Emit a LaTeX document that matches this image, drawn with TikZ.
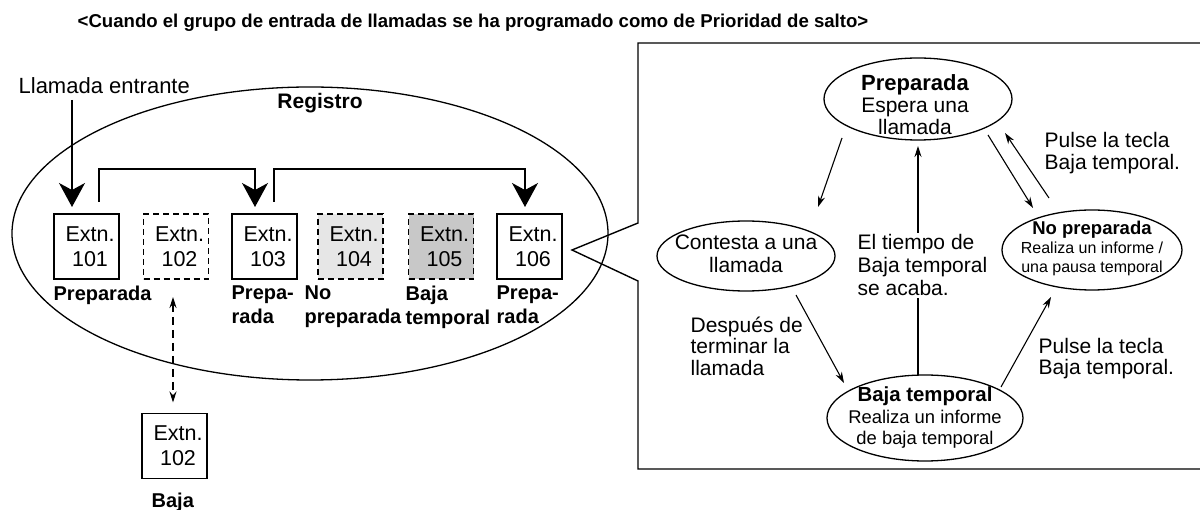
\documentclass[tikz,border=0pt]{standalone}
\usepackage{fontspec}
\setmainfont{Liberation Sans}
\usetikzlibrary{arrows.meta,shapes.geometric}
\definecolor{lightfill}{RGB}{230,230,230}
\definecolor{midfill}{RGB}{200,200,200}
\newcommand\fsz[2]{\fontsize{#1}{#2}\selectfont}
\newcommand\extlabel[1]{\hspace*{7pt}Extn.\\\hspace*{7pt}#1}
\begin{document}
\begin{tikzpicture}[x=1pt,y=-1pt,line width=1.3pt,
 extbox/.style={draw,minimum width=65pt,minimum height=65pt,inner sep=0pt,outer sep=0pt,align=center,font=\fsz{21.5}{25}},
 dextbox/.style={extbox,dash pattern=on 6pt off 4pt},
 lbl/.style={anchor=north west,align=left,inner sep=0pt,font=\bfseries\fsz{20}{24}},
 stell/.style={draw,ellipse,inner sep=0pt,outer sep=0pt},
 txt/.style={anchor=north west,align=left,inner sep=0pt,font=\fsz{21}{22}},
 bigarrow/.style={-{Stealth[length=24pt,width=26pt,inset=7pt]}},
 smallarrow/.style={line width=1.1pt,-{Stealth[length=11pt,width=7pt]}},
]
\useasboundingbox (0,0) rectangle (1200,510);

% title
\node[anchor=west,inner sep=0pt,font=\bfseries\fsz{18.6}{22}] (title) at (77,23) {<Cuando el grupo de entrada de llamadas se ha programado como de Prioridad de salto>};

% left part
\node[stell,minimum width=596pt,minimum height=293pt] (registro) at (310,233.5) {};
\node[inner sep=0pt,font=\bfseries\fsz{21}{24}] (registroT) at (320,103) {Registro};
\node[anchor=west,inner sep=0pt,font=\fsz{22}{24}] (incoming) at (18,86) {Llamada entrante};

\node[extbox] (b101) at (86.5,246.5) {\extlabel{101}};
\node[dextbox] (b102) at (176,246.5) {\extlabel{102}};
\node[extbox] (b103) at (264.5,246.5) {\extlabel{103}};
\node[dextbox,fill=lightfill] (b104) at (350.5,246.5) {\extlabel{104}};
\node[dextbox,fill=midfill] (b105) at (441,246.5) {\extlabel{105}};
\node[extbox] (b106) at (529.5,246.5) {\extlabel{106}};
\node[extbox] (b102low) at (174.5,446) {\extlabel{102}};

\node[lbl] (l101) at (53,285) {Preparada};
\node[lbl] (l103) at (231,285) {Prepa-\\rada};
\node[lbl] (l104) at (304,285) {No\\preparada};
\node[lbl] (l105) at (405,285) {Baja\\temporal};
\node[lbl] (l106) at (496,285) {Prepa-\\rada};
\node[lbl] (l102low) at (151,492) {Baja};

\coordinate (incomingEnd) at (72,100);
\draw[bigarrow,shorten >=7pt] (incomingEnd) -- (incomingEnd |- b101.north);
\draw[bigarrow,shorten >=7pt] ([shift={(12.5,-12)}]b101.north) |- ([shift={(-9.5,-45)}]b103.north) -- ([shift={(-9.5,0)}]b103.north);
\draw[bigarrow,shorten >=7pt] ([shift={(9.5,-12)}]b103.north) |- ([shift={(-4.5,-45)}]b106.north) -- ([shift={(-4.5,0)}]b106.north);
\draw[line width=1.1pt,dash pattern=on 8pt off 5pt,{Stealth[length=11pt,width=7pt]}-{Stealth[length=11pt,width=7pt]},shorten <=18pt,shorten >=11pt] ([shift={(-3,0)}]b102.south) -- ([shift={(-3,0)}]b102.south |- b102low.north);

% right panel
\draw[line width=1.4pt] (1206,43) -- (638,43) -- (638,223) -- (572,250) -- (638,281) -- (638,469) -- (1206,469);

\node[stell,minimum width=188pt,minimum height=82pt] (prepE) at (918,99) {};
\node[stell,minimum width=178pt,minimum height=70pt] (contE) at (746,256) {};
\node[stell,minimum width=180pt,minimum height=80pt] (noprepE) at (1092,250) {};
\node[stell,minimum width=196pt,minimum height=86pt] (bajaE) at (925,418) {};

\node[align=center,inner sep=0pt,font=\fsz{21}{22}] (prepT) at (915,105) {{\bfseries\fsz{22}{22}Preparada}\\Espera una\\llamada};
\node[align=center,inner sep=0pt,font=\fsz{21}{23}] (contT) at (746,254) {Contesta a una\\llamada};
\node[align=center,inner sep=0pt,font=\fsz{16}{19}] (noprepT) at (1092,248) {{\bfseries\fsz{18.5}{19}No preparada}\\Realiza un informe /\\una pausa temporal};
\node[align=center,inner sep=0pt,font=\fsz{18.4}{21.5}] (bajaT) at (925,418) {{\bfseries\fsz{20.4}{21.5}Baja temporal}\\Realiza un informe\\de baja temporal};

\draw[smallarrow,shorten >=6pt] (prepE.south |- bajaE.north) -- (prepE.south);
\node[txt,fill=white,inner sep=2pt,font=\fsz{21}{23}] (timeout) at (855,232) {El tiempo de\\Baja temporal\\se acaba.};
\node[txt] (pulse1) at (1044,132) {Pulse la tecla\\Baja temporal.};
\node[txt,font=\fsz{21}{21.5}] (despues) at (690,316) {Después de\\terminar la\\llamada};
\node[txt,font=\fsz{21}{21}] (pulse2) at (1038,338) {Pulse la tecla\\Baja temporal.};

\draw[smallarrow] ([shift={(-76,39)}]prepE.center) -- ([shift={(72,-49)}]contE.center);
\draw[smallarrow] ([shift={(70,36)}]prepE.center) -- ([shift={(-59,-42)}]noprepE.center);
\draw[smallarrow] ([shift={(-43,-52)}]noprepE.center) -- ([shift={(87,34)}]prepE.center);
\draw[smallarrow] ([shift={(50,39)}]contE.center) -- ([shift={(-81,-35)}]bajaE.center);
\draw[smallarrow] ([shift={(76,-31)}]bajaE.center) -- ([shift={(-41,47)}]noprepE.center);
\end{tikzpicture}
\end{document}
